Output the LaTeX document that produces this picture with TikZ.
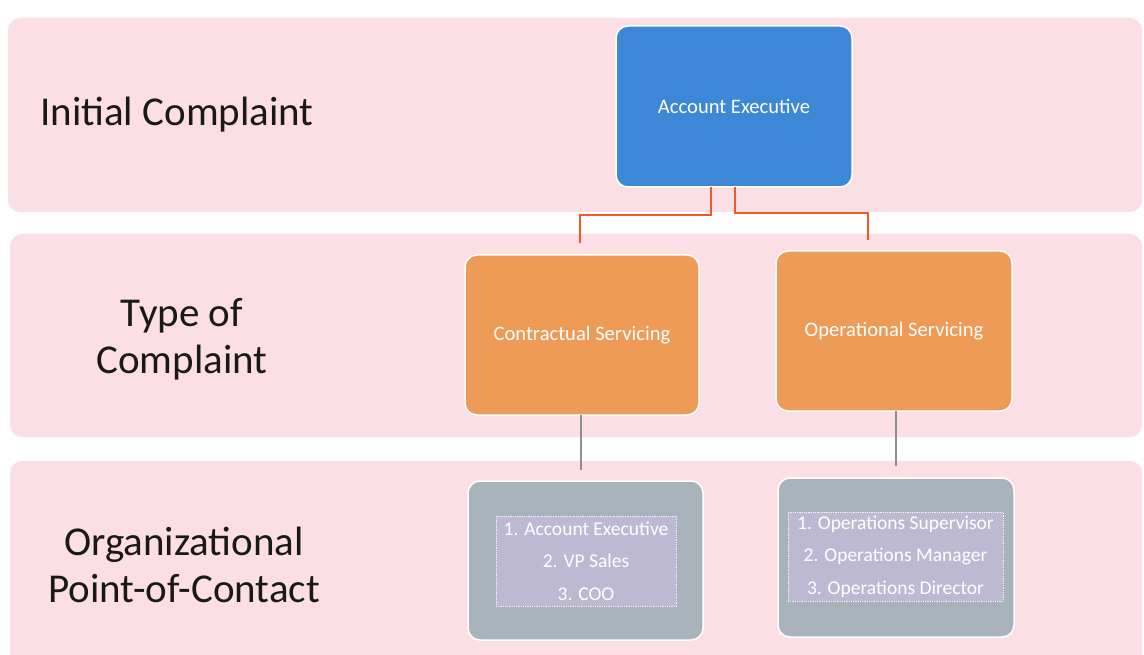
\documentclass[tikz,border=0pt]{standalone}
\usepackage{fontspec}
\setmainfont{Carlito}
\definecolor{band}{HTML}{FBDFE4}
\definecolor{aeblue}{HTML}{3C88D6}
\definecolor{orng}{HTML}{EE9B58}
\definecolor{gry}{HTML}{A9B3BB}
\definecolor{lav}{HTML}{BDB9D3}
\definecolor{lineor}{HTML}{EE5A2A}
\definecolor{linegr}{HTML}{8A8F96}
\tikzset{
  bandbox/.style={fill=band, draw=none, rounded corners=12pt},
  boxbase/.style={draw=white, line width=1.5pt, rounded corners=12pt, text=white, font=\fontsize{20.6}{24}\selectfont},
  lvl/.style={font=\fontsize{41}{47}\selectfont, align=center, text=black!90},
  innerbox/.style={fill=lav, draw=white!80!lav, densely dotted, line width=0.8pt, inner sep=0pt, text=white, align=center, font=\fontsize{19.5}{32.5}\selectfont},
  orline/.style={draw=lineor, line width=1.6pt},
  grline/.style={draw=linegr, line width=1.4pt},
}
\begin{document}
\begin{tikzpicture}[x=1pt,y=-1pt]
\useasboundingbox (0,0) rectangle (1144,655);
\fill[white] (0,0) rectangle (1144,655);
% bands
\path[bandbox] (8,18) rectangle (1142,212);
\path[bandbox] (10,234) rectangle (1142,437);
\path[bandbox] (10,461) rectangle (1142,670);
% labels
\node[lvl] (l1) at (177,115) {Initial Complaint};
\node[lvl] (l2) at (182,339) {Type of\\Complaint};
\node[lvl] (l3) at (184,565) {Organizational\\Point-of-Contact};
% boxes
\node[boxbase, fill=aeblue, minimum width=236pt, minimum height=161pt] (ae) at (734,106.5) {Account Executive};
\node[boxbase, fill=orng, minimum width=234pt, minimum height=160pt] (cs) at (582,335) {Contractual Servicing};
\node[boxbase, fill=orng, minimum width=236pt, minimum height=160pt] (os) at (894,331) {Operational Servicing};
\node[boxbase, fill=gry, minimum width=235pt, minimum height=159pt] (g1) at (585.5,560.5) {};
\node[boxbase, fill=gry, minimum width=236pt, minimum height=159pt] (g2) at (896,557.5) {};
\node[innerbox, minimum width=180pt, minimum height=90pt] (i1) at (586,561) {1. Account Executive\\2. VP Sales\\3. COO};
\node[innerbox, minimum width=215pt, minimum height=89pt] (i2) at (895.5,556.5) {1. Operations Supervisor\\2. Operations Manager\\3. Operations Director};
% connectors
\coordinate (a1) at (711,187);
\coordinate (a2) at (735,187);
\coordinate (c1) at (580,243);
\coordinate (c2) at (868,240);
\draw[orline] (a1) -- (711,215) -- (580,215) -- (c1);
\draw[orline] (a2) -- (735,213) -- (868,213) -- (c2);
\draw[grline] (581,415) -- (581,470);
\draw[grline] (896,411) -- (896,466);
\end{tikzpicture}
\end{document}
